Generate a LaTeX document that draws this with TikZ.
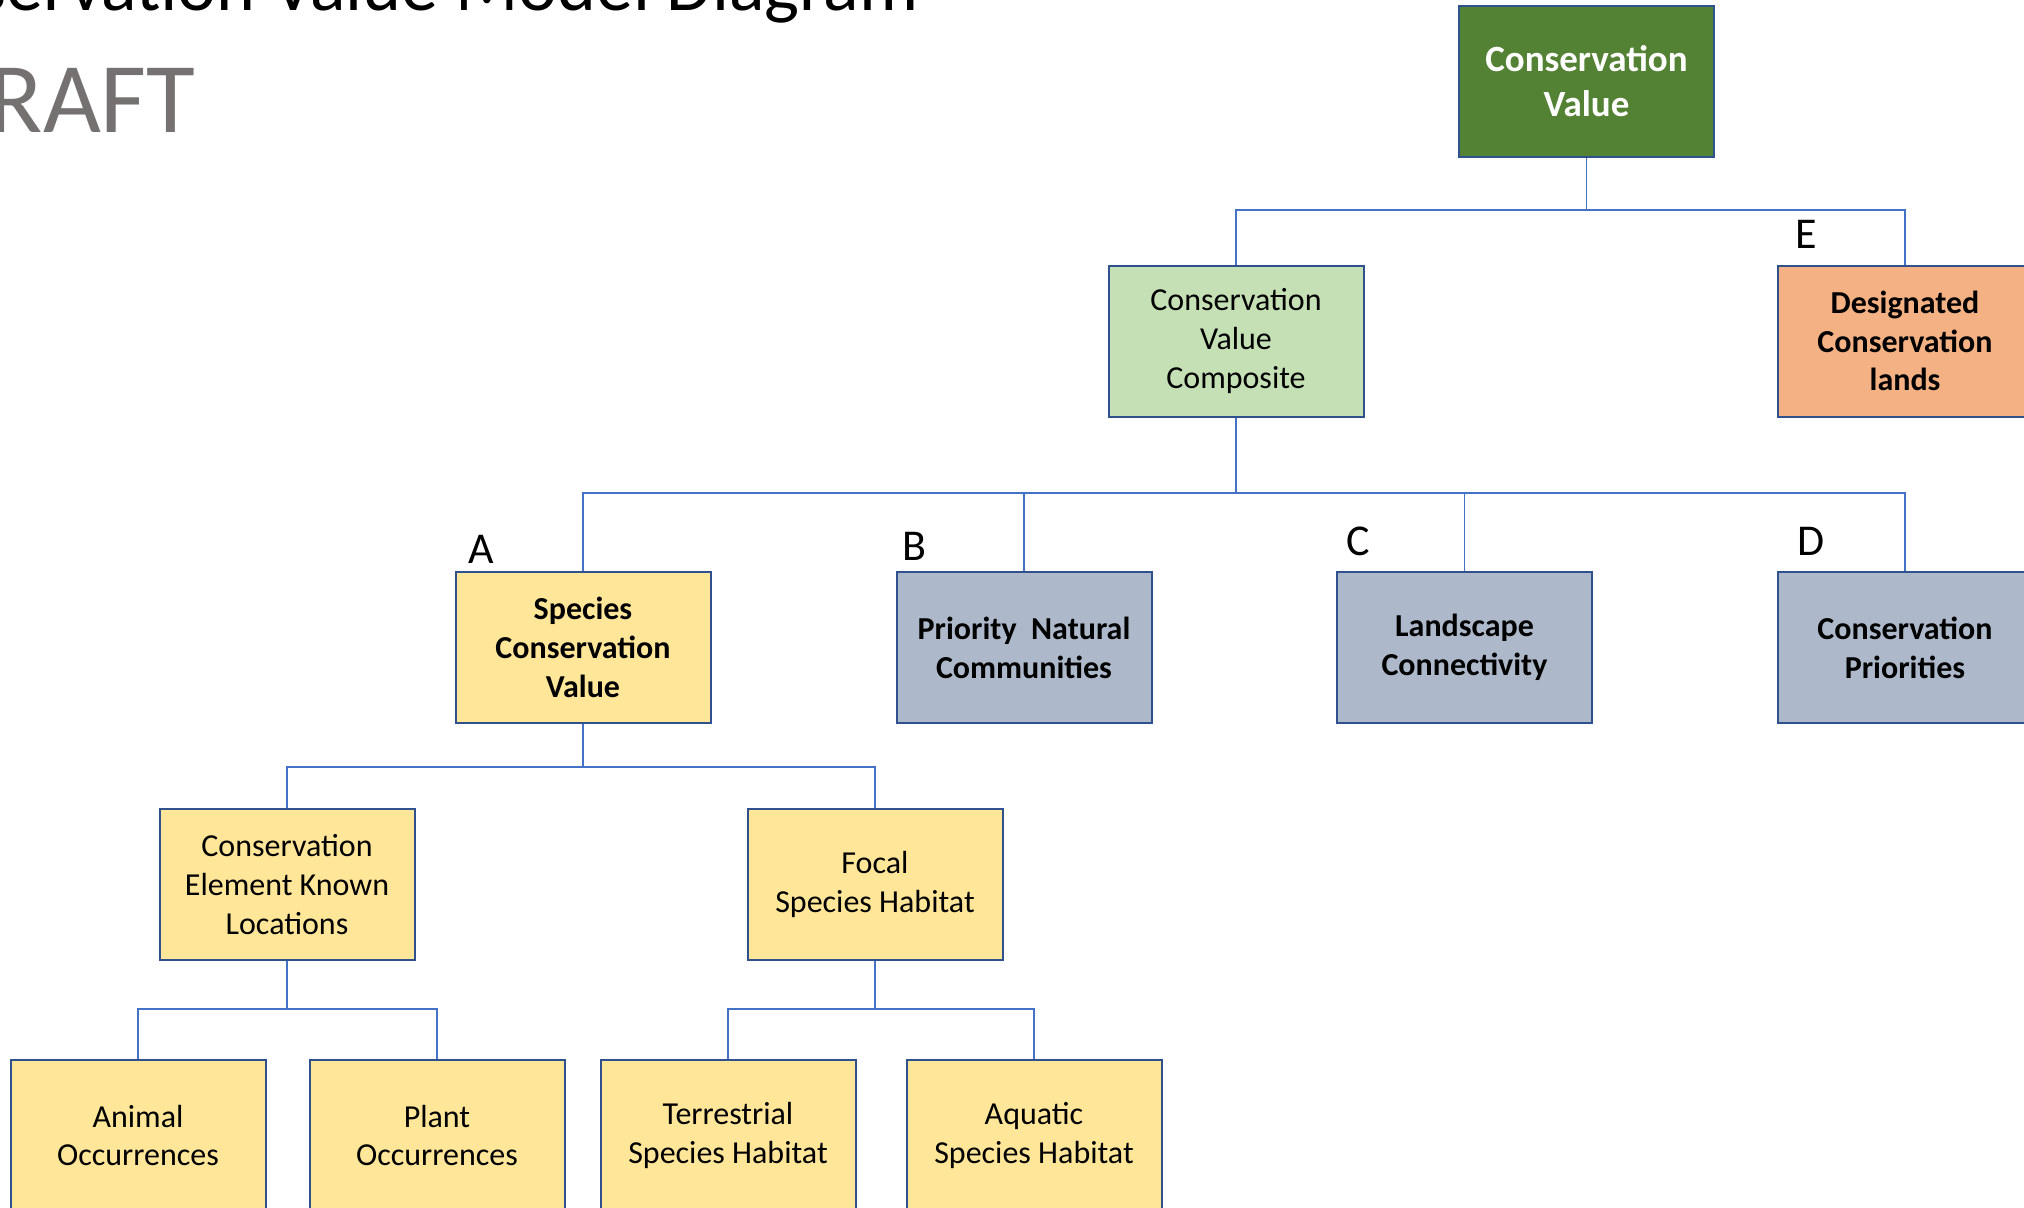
\documentclass[tikz,border=0pt]{standalone}
\usepackage{fontspec}
\setmainfont{Carlito}
\definecolor{cvgreen}{HTML}{548235}
\definecolor{compgreen}{HTML}{C5E0B4}
\definecolor{desorange}{HTML}{F4B183}
\definecolor{spcyellow}{HTML}{FFE699}
\definecolor{prigray}{HTML}{ADB9CA}
\definecolor{boxline}{HTML}{2F528F}
\definecolor{linkblue}{HTML}{4472C4}
\definecolor{draftgray}{HTML}{767171}
\begin{document}
\begin{tikzpicture}[x=0.5pt, y=-0.5pt,
	box/.style={draw=boxline, line width=1pt, minimum width=127.5pt, minimum height=75.5pt, inner sep=0pt, align=center, font=\fontsize{16}{19.4}\selectfont},
	boldbox/.style={box, font=\bfseries\fontsize{16}{19.4}\selectfont},
	link/.style={draw=linkblue, line width=0.75pt},
	letter/.style={inner sep=0pt, font=\fontsize{22}{26}\selectfont}]

	\useasboundingbox (0,0) rectangle (2024,1207);
	\clip (0,0) rectangle (2024,1207);

	%title
	\node[anchor=base east, inner sep=0pt, font=\fontsize{37}{44}\selectfont] (title) at (919,10) {Conservation Value Model Diagram};
	\node[anchor=base east, inner sep=0pt, font=\fontsize{50}{60}\selectfont, color=draftgray] (draft) at (196,132) {DRAFT};

	%top levels
	\node[box, fill=cvgreen, text=white, font=\bfseries\fontsize{18.5}{22.6}\selectfont] (cv) at (1586.5,81.5) {Conservation\\Value};
	\node[box, fill=compgreen] (comp) at (1236,341) {Conservation\\Value\\Composite};
	\node[boldbox, fill=desorange] (des) at (1905,341) {Designated\\Conservation\\lands};

	%A to D
	\node[boldbox, fill=spcyellow] (spc) at (583,647.5) {Species\\Conservation\\Value};
	\node[boldbox, fill=prigray] (pnc) at (1024,647.5) {Priority~ Natural\\Communities};
	\node[boldbox, fill=prigray] (conn) at (1464.5,647.5) {Landscape\\Connectivity};
	\node[boldbox, fill=prigray] (prio) at (1905,647.5) {Conservation\\Priorities};

	\node[letter] (tagA) at (481,549) {A};
	\node[letter] (tagB) at (914,546) {B};
	\node[letter] (tagC) at (1358,541) {C};
	\node[letter] (tagD) at (1811,541) {D};
	\node[letter] (tagE) at (1806,234) {E};

	%species levels
	\node[box, fill=spcyellow] (cekl) at (287,884.5) {Conservation\\Element Known\\Locations};
	\node[box, fill=spcyellow] (focal) at (875,884.5) {Focal\\Species Habitat};

	\foreach \name/\x/\txt in {animal/138/{Animal\\Occurrences}, plant/437/{Plant\\Occurrences},
		terr/728/{Terrestrial\\Species Habitat}, aqua/1034/{Aquatic\\Species Habitat}}
		\node[box, fill=spcyellow] (\name) at (\x,1135.5) {\txt};

	%links
	\coordinate (bus1) at (1586.5,210);
	\draw[link] (cv.south) -- (bus1) -| (comp.north);
	\draw[link] (bus1) -| (des.north);

	\coordinate (bus2) at (1236,493);
	\draw[link] (comp.south) -- (bus2);
	\foreach \n in {spc,pnc,conn,prio}
		\draw[link] (bus2) -| (\n.north);

	\coordinate (bus3) at (583,767);
	\draw[link] (spc.south) -- (bus3);
	\foreach \n in {cekl,focal}
		\draw[link] (bus3) -| (\n.north);

	\coordinate (bus4) at (287,1009);
	\draw[link] (cekl.south) -- (bus4);
	\foreach \n in {animal,plant}
		\draw[link] (bus4) -| (\n.north);

	\coordinate (bus5) at (875,1009);
	\draw[link] (focal.south) -- (bus5);
	\foreach \n in {terr,aqua}
		\draw[link] (bus5) -| (\n.north);
\end{tikzpicture}
\end{document}
